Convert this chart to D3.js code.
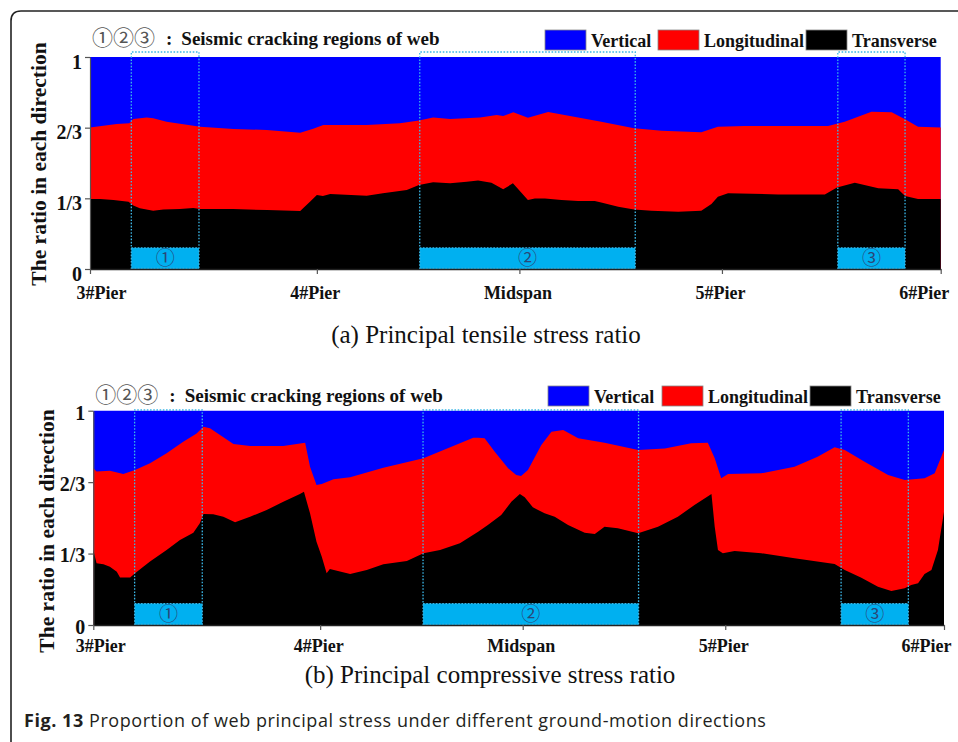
<!DOCTYPE html>
<html>
<head>
<meta charset="utf-8">
<script src="https://cdn.jsdelivr.net/npm/d3@7"></script>
<style>
  html, body { margin: 0; padding: 0; background: #fff; }
  svg { display: block; }
</style>
</head>
<body>
<svg id="fig" width="958" height="742"></svg>
<script>
// Stations along the girder (m) and their labels
const piers = ["3#Pier", "4#Pier", "Midspan", "5#Pier", "6#Pier"];
const pierStations = [0, 56, 106, 156, 210];

// Y axis ticks (share of principal stress)
const yTicks = [0, 1 / 3, 2 / 3, 1];
const yTickLabels = ["0", "1/3", "2/3", "1"];

// Seismic cracking regions of the web (station ranges) and their markers
const crackZones = [[10.2, 26.9], [81.4, 134.6], [184.6, 201.2]];
const crackLabels = ["\u2460", "\u2461", "\u2462"];
const crackBarHeight = 0.1;

const seriesNames = ["Vertical", "Longitudinal", "Transverse"];

// (a) Principal tensile stress: transverse share along the girder
const tensileTransverse = [
  [0, 0.330], [2.5, 0.330], [5.8, 0.325], [9.5, 0.317], [10.7, 0.299], [12.3, 0.286],
  [15.6, 0.275], [18.1, 0.281], [22.2, 0.283], [25.5, 0.288], [27.2, 0.283], [35.3, 0.283],
  [43.7, 0.278], [51.9, 0.274], [52.6, 0.286], [54.3, 0.317], [56, 0.349], [57.5, 0.344],
  [59.3, 0.354], [68.3, 0.346], [72.3, 0.357], [78.2, 0.373], [81.2, 0.396], [84.7, 0.409],
  [88.9, 0.404], [93, 0.412], [95.8, 0.417], [99.1, 0.407], [102, 0.376], [104.4, 0.404],
  [106.5, 0.360], [108.1, 0.325], [109.8, 0.333], [112.3, 0.333], [116.4, 0.325], [120.5, 0.321],
  [124.6, 0.321], [126.2, 0.314], [130.4, 0.294], [134.3, 0.281], [138.6, 0.275], [145.2, 0.270],
  [150.9, 0.275], [153.4, 0.307], [155, 0.341], [157.5, 0.357], [169.9, 0.352], [181.4, 0.352],
  [184.4, 0.384], [188.8, 0.407], [194.6, 0.381], [199.5, 0.376], [201.2, 0.344], [204.4, 0.330],
  [210, 0.330]
];
// (a) transverse + longitudinal share (top of the longitudinal band)
const tensileTransLong = [
  [0, 0.667], [6.6, 0.684], [9.7, 0.687], [10.7, 0.708], [14, 0.715], [15.6, 0.711],
  [18.9, 0.695], [27.2, 0.671], [35.4, 0.660], [43.6, 0.656], [51.9, 0.643], [55.1, 0.662],
  [57.6, 0.679], [68.3, 0.679], [76.5, 0.687], [81.2, 0.700], [84.7, 0.715], [88.9, 0.708],
  [96.3, 0.715], [100.4, 0.726], [102, 0.722], [104.5, 0.739], [108.1, 0.714], [113.1, 0.741],
  [120.5, 0.715], [126.2, 0.695], [134.3, 0.664], [141.1, 0.652], [150.9, 0.645], [155, 0.671],
  [161.6, 0.675], [182.2, 0.675], [186.3, 0.695], [192.9, 0.742], [197.9, 0.739], [201.2, 0.706],
  [204.4, 0.671], [210, 0.667]
];

// (b) Principal compressive stress: transverse share along the girder
const compressiveTransverse = [
  [0, 0.350], [0.8, 0.288], [2.5, 0.283], [4.1, 0.272], [5.8, 0.249], [6.6, 0.222],
  [9.1, 0.222], [10.3, 0.241], [14.0, 0.296], [18.1, 0.350], [21.4, 0.397], [24.7, 0.431],
  [26.3, 0.475], [27.2, 0.518], [29.6, 0.517], [32.1, 0.505], [35.0, 0.479], [38.7, 0.505],
  [42.8, 0.537], [46.9, 0.575], [51.0, 0.611], [52.0, 0.622], [53.5, 0.521], [55.1, 0.389],
  [56.4, 0.319], [57.6, 0.241], [58.4, 0.261], [63.4, 0.238], [67.5, 0.257], [71.6, 0.283],
  [77.4, 0.299], [81.5, 0.335], [85.6, 0.350], [90.5, 0.381], [95.0, 0.435], [97.4, 0.467],
  [100.7, 0.513], [103.2, 0.575], [105.3, 0.611], [106.5, 0.596], [108.5, 0.549], [111.4, 0.521],
  [113.9, 0.505], [117.2, 0.467], [121.3, 0.431], [123.8, 0.425], [126.2, 0.459], [129.5, 0.451],
  [134.5, 0.428], [139.4, 0.459], [144.3, 0.505], [148.4, 0.560], [152.6, 0.611], [153.4, 0.459],
  [154.2, 0.350], [155.4, 0.335], [158.3, 0.345], [164.9, 0.335], [173.1, 0.311], [183.0, 0.285],
  [185.5, 0.257], [189.6, 0.221], [193.7, 0.179], [197.0, 0.159], [200.3, 0.171], [201.9, 0.187],
  [203.6, 0.195], [205.2, 0.238], [206.9, 0.257], [208.5, 0.350], [210, 0.529]
];
// (b) transverse + longitudinal share (top of the longitudinal band)
const compressiveTransLong = [
  [0, 0.731], [0.8, 0.716], [4.1, 0.720], [7.4, 0.705], [10.3, 0.723], [14.0, 0.755],
  [18.1, 0.801], [22.2, 0.855], [25.5, 0.894], [27.2, 0.925], [28.8, 0.918], [34.6, 0.845],
  [38.7, 0.835], [46.9, 0.835], [52.3, 0.851], [53.5, 0.739], [55.1, 0.653], [56.4, 0.658],
  [59.3, 0.680], [63.4, 0.689], [71.6, 0.734], [81.5, 0.778], [88.1, 0.829], [93.8, 0.874],
  [95.0, 0.874], [96.6, 0.871], [99.1, 0.809], [102.4, 0.731], [104.4, 0.700], [105.6, 0.695],
  [107.3, 0.723], [110.6, 0.840], [113.1, 0.902], [116.0, 0.910], [119.7, 0.871], [126.2, 0.851],
  [134.5, 0.817], [141.1, 0.824], [147.6, 0.848], [151.7, 0.851], [153.4, 0.778], [155.0, 0.685],
  [156.7, 0.705], [164.9, 0.708], [173.1, 0.739], [178.8, 0.785], [183.0, 0.829], [185.5, 0.817],
  [190.4, 0.762], [196.2, 0.700], [200.3, 0.677], [205.2, 0.685], [207.7, 0.708], [210, 0.817]
];

const colors = { Vertical: "#0000ff", Longitudinal: "#ff0000", Transverse: "#000000" };
const zoneFill = "#00b0f0";
const zoneLine = "#3ab6e6";
const serif = "'Liberation Serif', 'Times New Roman', serif";
const circledFont = "'Noto Sans CJK SC', 'DejaVu Sans', sans-serif";

const svg = d3.select("#fig");

// Rounded figure frame (top and left edges)
svg.append("path")
  .attr("d", "M11,742 V21 Q11,11 21,11 H958")
  .attr("fill", "none").attr("stroke", "#222").attr("stroke-width", 1.6);

function drawPanel(p) {
  const x = d3.scaleLinear()
    .domain([pierStations[0], pierStations[pierStations.length - 1]])
    .range([p.x0, p.x1]);
  const y = d3.scaleLinear().domain([0, 1]).range([p.y0, p.y1]);
  const g = svg.append("g");

  // Stacked shares: vertical fills to 1, longitudinal and transverse painted over it
  const band = d3.area().x(d => x(d[0])).y0(y(0)).y1(d => y(d[1]));
  g.append("path").datum(x.domain().map(s => [s, 1])).attr("d", band).attr("fill", colors.Vertical);
  g.append("path").datum(p.transLong).attr("d", band).attr("fill", colors.Longitudinal);
  g.append("path").datum(p.transverse).attr("d", band).attr("fill", colors.Transverse);

  // Cracking regions: cyan bar plus dotted outline
  crackZones.forEach((z, i) => {
    const xa = x(z[0]), xb = x(z[1]);
    g.append("rect")
      .attr("x", xa).attr("y", y(crackBarHeight))
      .attr("width", xb - xa).attr("height", y(0) - y(crackBarHeight))
      .attr("fill", zoneFill);
    g.append("path")
      .attr("d", `M${xa},${y(0)} V${p.dotTop} H${xb} V${y(0)} M${xa},${y(crackBarHeight)} H${xb} M${xa},${y(0) - 0.5} H${xb}`)
      .attr("fill", "none").attr("stroke", zoneLine)
      .attr("stroke-width", 1.3).attr("stroke-dasharray", "1.6,1.6");
    g.append("text")
      .attr("x", (xa + xb) / 2).attr("y", y(crackBarHeight / 2))
      .attr("dy", "0.36em")
      .attr("text-anchor", "middle")
      .attr("font-family", circledFont)
      .attr("font-size", 19)
      .attr("fill", "#2a4778")
      .text(crackLabels[i]);
  });

  // Y axis
  const yAxis = g.append("g")
    .attr("transform", `translate(${p.x0},0)`)
    .call(d3.axisLeft(y).tickValues(yTicks).tickFormat((d, i) => yTickLabels[i])
      .tickSize(5).tickSizeOuter(0).tickPadding(3));
  yAxis.select(".domain").attr("stroke", "#555").attr("stroke-width", 1.2);
  yAxis.selectAll(".tick line").attr("stroke", "#555").attr("stroke-width", 1.2);
  yAxis.selectAll(".tick text")
    .attr("font-family", serif).attr("font-weight", "bold").attr("font-size", 20)
    .attr("fill", "#111").attr("dy", p.yLabelDy);

  // X axis
  const xAxis = g.append("g")
    .attr("transform", `translate(0,${p.y0})`)
    .call(d3.axisBottom(x).tickValues(pierStations).tickFormat((d, i) => piers[i])
      .tickSize(5).tickSizeOuter(0));
  xAxis.select(".domain").attr("stroke", "#222").attr("stroke-width", 1.3);
  xAxis.selectAll(".tick line").attr("stroke", "#555").attr("stroke-width", 1.2);
  xAxis.selectAll(".tick text")
    .attr("font-family", serif).attr("font-weight", "bold").attr("font-size", 18)
    .attr("fill", "#111")
    .attr("y", p.labelDrop).attr("dy", 0)
    .attr("text-anchor", (d, i) => i === 0 ? "start" : (i === piers.length - 1 ? "end" : "middle"))
    .attr("x", (d, i) => i === 0 ? p.firstShift : (i === piers.length - 1 ? p.lastShift : -2));

  // Y axis title
  svg.append("text")
    .attr("transform", `translate(${p.titleX},${p.titleY}) rotate(-90)`)
    .attr("text-anchor", "middle")
    .attr("font-family", serif).attr("font-weight", "bold").attr("font-size", 21.5)
    .attr("fill", "#111")
    .text("The ratio in each direction");

  // Note on the cracking region markers
  const note = svg.append("text")
    .attr("x", p.x0 + 2).attr("y", p.noteY)
    .attr("fill", "#111");
  note.append("tspan")
    .attr("font-family", circledFont).attr("font-size", 21)
    .attr("fill", "#555")
    .text(crackLabels.join(""));
  note.append("tspan")
    .attr("font-family", serif).attr("font-weight", "bold").attr("font-size", 19)
    .attr("dx", 11)
    .text(":");
  note.append("tspan")
    .attr("font-family", serif).attr("font-weight", "bold").attr("font-size", 19)
    .attr("dx", 9)
    .text("Seismic cracking regions of web");

  // Legend
  const legendBoxes = p.legendX;
  seriesNames.forEach((name, i) => {
    g.append("rect")
      .attr("x", legendBoxes[i]).attr("y", p.legendY)
      .attr("width", 41).attr("height", 20)
      .attr("fill", colors[name]).attr("stroke", "#888").attr("stroke-width", 0.8);
    g.append("text")
      .attr("x", legendBoxes[i] + 46).attr("y", p.legendY + 16.5)
      .attr("font-family", serif).attr("font-weight", "bold").attr("font-size", 18)
      .attr("fill", "#111")
      .text(name);
  });

  // Panel subtitle
  svg.append("text")
    .attr("x", p.subX).attr("y", p.subY)
    .attr("text-anchor", "middle")
    .attr("font-family", serif).attr("font-size", 25)
    .attr("fill", "#111")
    .text(p.subtitle);
}

drawPanel({
  x0: 90, x1: 940.7, y0: 269, y1: 57, dotTop: 52,
  transverse: tensileTransverse, transLong: tensileTransLong,
  labelDrop: 30, firstShift: -14, lastShift: 8, yLabelDy: "0.55em",
  titleX: 46, titleY: 164, noteY: 45,
  legendX: [545, 658, 806], legendY: 30,
  subtitle: "(a) Principal tensile stress ratio", subX: 486, subY: 343
});

drawPanel({
  x0: 93.3, x1: 944, y0: 625, y1: 410.7, dotTop: 410,
  transverse: compressiveTransverse, transLong: compressiveTransLong,
  labelDrop: 27, firstShift: -18, lastShift: 7, yLabelDy: "0.42em",
  titleX: 54, titleY: 531, noteY: 401.5,
  legendX: [548, 662, 810], legendY: 386,
  subtitle: "(b) Principal compressive stress ratio", subX: 490, subY: 683
});

// Figure caption
const caption = svg.append("text")
  .attr("x", 24).attr("y", 727)
  .attr("font-family", "'Open Sans', sans-serif").attr("font-size", 18)
  .attr("letter-spacing", 0.55)
  .attr("fill", "#231f20");
caption.append("tspan").attr("font-weight", "bold").text("Fig. 13");
caption.append("tspan")
  .text(" Proportion of web principal stress under different ground-motion directions");
</script>
</body>
</html>
